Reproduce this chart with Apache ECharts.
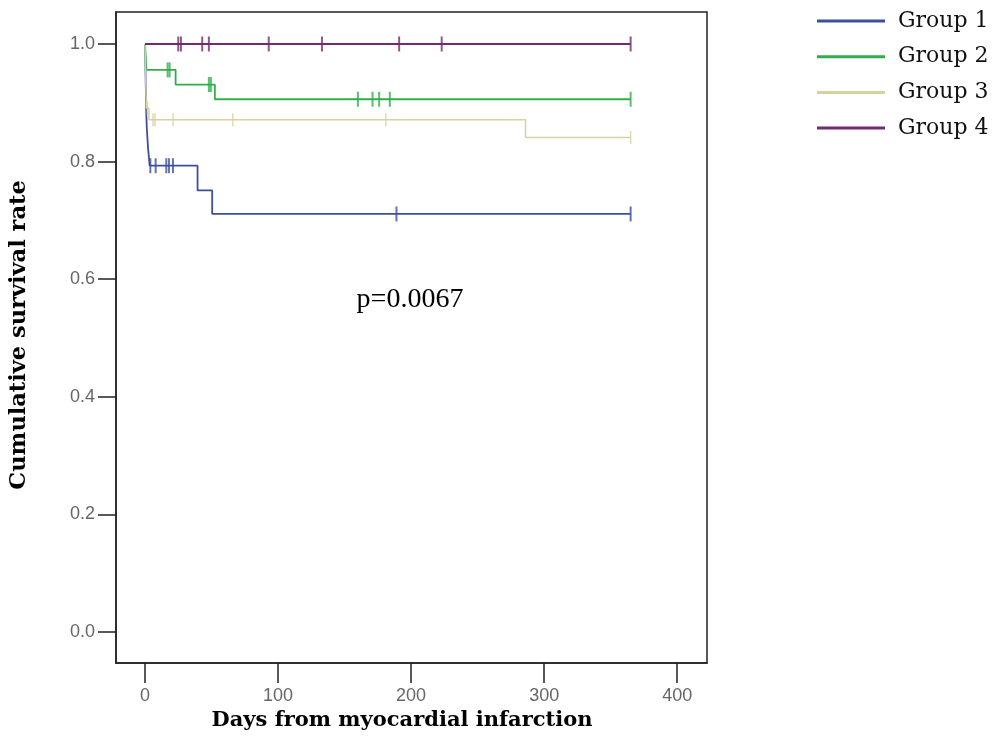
<!DOCTYPE html>
<html>
<head>
<meta charset="utf-8">
<script src="https://cdn.jsdelivr.net/npm/echarts@6/dist/echarts.min.js"></script>
<style>html,body{margin:0;padding:0;background:#fff;}#chart{width:997px;height:753px;}</style>
</head>
<body>
<div id="chart"></div>
<script>
// ---- data ----
const groupNames = ['Group 1', 'Group 2', 'Group 3', 'Group 4'];
const group1Times = [0, 1, 1.4, 2.3, 3.5, 39.5, 50.5, 365];
const group1Surv  = [1.0, 0.879, 0.855, 0.823, 0.793, 0.751, 0.711, 0.711];
const group1Censor = [4, 8, 16, 18, 21, 189, 365];
const group2Times = [0, 1, 23, 52.5, 365];
const group2Surv  = [1.0, 0.956, 0.931, 0.906, 0.906];
const group2Censor = [17, 18.5, 48, 49.5, 160, 171, 176, 184, 365];
const group3Times = [0, 1, 3, 286, 365];
const group3Surv  = [1.0, 0.891, 0.871, 0.841, 0.841];
const group3Censor = [1.8, 6, 7.5, 21, 66, 181, 365];
const group4Times = [0, 365];
const group4Surv  = [1.0, 1.0];
const group4Censor = [25, 27, 43, 48, 93, 133, 191, 223, 365];
const xTicks = [0, 100, 200, 300, 400];
const yTicks = [0, 0.2, 0.4, 0.6, 0.8, 1.0];
const pValueText = 'p=0.0067';
const xTitle = 'Days from myocardial infarction';
const yTitle = 'Cumulative survival rate';

const colors = ['#3d4f9c', '#2fae4a', '#d6d19e', '#742a72'];

function survAt(times, surv, t) {
  let v = surv[0];
  for (let i = 0; i < times.length; i++) { if (times[i] <= t) v = surv[i]; }
  return v;
}
const groups = [
  {t: group1Times, s: group1Surv, c: group1Censor},
  {t: group2Times, s: group2Surv, c: group2Censor},
  {t: group3Times, s: group3Surv, c: group3Censor},
  {t: group4Times, s: group4Surv, c: group4Censor}
];
const drawOrder = [0, 2, 1, 3];
const series = [];
drawOrder.forEach(function (gi) {
  const g = groups[gi];
  series.push({
    name: groupNames[gi], type: 'line', step: 'end', showSymbol: false, symbol: 'none',
    data: g.t.map(function (t, i) { return [t, g.s[i]]; }),
    lineStyle: {color: colors[gi], width: gi === 2 ? 1.5 : 1.8},
    itemStyle: {color: colors[gi]},
    z: 2 + gi, silent: true
  });
  series.push({
    name: groupNames[gi] + ' censored', type: 'scatter', symbol: 'rect',
    symbolSize: gi === 2 ? [1.5, 13] : [2, 15],
    data: g.c.map(function (t) { return [t, survAt(g.t, g.s, t)]; }),
    itemStyle: {color: colors[gi]}, z: 2 + gi, silent: true
  });
});

const axisColor = '#222';
const chart = echarts.init(document.getElementById('chart'), null, {renderer: 'canvas'});
chart.setOption({
  animation: false,
  backgroundColor: '#fff',
  grid: {left: 116, top: 12, right: 290, bottom: 90, show: true, borderColor: axisColor, borderWidth: 1.5, backgroundColor: 'transparent'},
  xAxis: {
    type: 'value', min: -21.8, max: 422.4,
    axisLine: {show: true, onZero: false, lineStyle: {color: axisColor, width: 1.5}},
    axisTick: {show: true, length: 20, customValues: xTicks, lineStyle: {color: axisColor, width: 1.5}},
    axisLabel: {customValues: xTicks, margin: 24, color: '#666', fontFamily: 'Liberation Sans', fontSize: 18},
    splitLine: {show: false}
  },
  yAxis: {
    type: 'value', min: -0.0527, max: 1.0544,
    axisLine: {show: true, onZero: false, lineStyle: {color: axisColor, width: 1.5}},
    axisTick: {show: true, length: 18, customValues: yTicks, lineStyle: {color: axisColor, width: 1.5}},
    axisLabel: {customValues: yTicks, margin: 21, color: '#666', fontFamily: 'Liberation Sans', fontSize: 18,
      formatter: function (v) { return v.toFixed(1); }},
    splitLine: {show: false}
  },
  legend: {
    data: groupNames, orient: 'vertical', left: 812, top: 5, itemWidth: 68, itemHeight: 3, itemGap: 13.7,
    icon: 'rect',
    textStyle: {fontFamily: 'DejaVu Serif', fontSize: 22, color: '#111', padding: [0, 0, 0, 8]}
  },
  graphic: [
    {type: 'text', x: 402, y: 721, style: {text: xTitle, fontFamily: 'DejaVu Serif', fontWeight: 'bold', fontSize: 21, fill: '#000', align: 'center', verticalAlign: 'middle'}},
    {type: 'text', x: 19, y: 335, rotation: Math.PI / 2, style: {text: yTitle, fontFamily: 'DejaVu Serif', fontWeight: 'bold', fontSize: 22.5, fill: '#000', align: 'center', verticalAlign: 'middle'}},
    {type: 'text', x: 410, y: 300, style: {text: pValueText, fontFamily: 'Liberation Serif', fontSize: 28, fill: '#000', align: 'center', verticalAlign: 'middle'}}
  ],
  series: series
});
</script>
</body>
</html>
